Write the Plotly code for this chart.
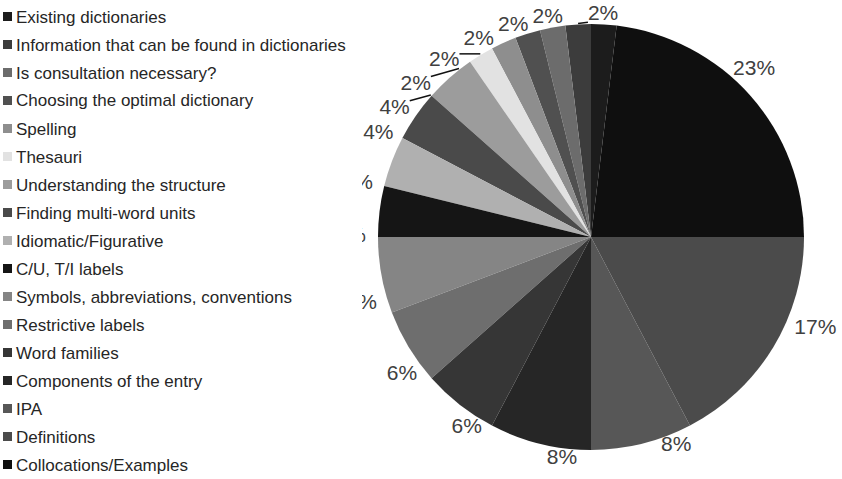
import math
import plotly.graph_objects as go

# Legend order (top to bottom); pie runs counterclockwise from 12 o'clock in this order
categories = [
    "Existing dictionaries",
    "Information that can be found in dictionaries",
    "Is consultation necessary?",
    "Choosing the optimal dictionary",
    "Spelling",
    "Thesauri",
    "Understanding the structure",
    "Finding multi-word units",
    "Idiomatic/Figurative",
    "C/U, T/I labels",
    "Symbols, abbreviations, conventions",
    "Restrictive labels",
    "Word families",
    "Components of the entry",
    "IPA",
    "Definitions",
    "Collocations/Examples",
]
counts = [1, 1, 1, 1, 1, 1, 2, 2, 2, 2, 3, 3, 3, 4, 4, 9, 12]

colors = [
    "#1c1c1c", "#3c3c3c", "#6c6c6c", "#505050", "#8e8e8e", "#e2e2e2",
    "#9c9c9c", "#4a4a4a", "#b0b0b0", "#151515", "#858585", "#6e6e6e",
    "#363636", "#262626", "#575757", "#4b4b4b", "#0f0f0f",
]

W, H = 842, 479
cx, cy, r = 591, 237, 213
FONT = "Liberation Sans, Arial, sans-serif"
LABEL_SIZE = 21

# ---- outside-end data labels (Excel style), derived from the slice angles ----
total = sum(counts)
mids, acc = [], 0
for v in counts:
    mids.append((acc + v / 2) / total * 360.0)  # degrees, counterclockwise from 12 o'clock
    acc += v
texts = [f"{round(100 * v / total)}%" for v in counts]
widths = [0.556 * LABEL_SIZE * (len(t) - 1) + 0.889 * LABEL_SIZE for t in texts]
HH = 10
RX, RY = 225, 213


def label_xy(a, w):
    s, c = math.sin(math.radians(a)), math.cos(math.radians(a))
    return cx - (RX + w / 2) * s, cy - (RY + HH) * c


def overlap(i, ai, j, aj, gap=4):
    x1, y1 = label_xy(ai, widths[i])
    x2, y2 = label_xy(aj, widths[j])
    return abs(x1 - x2) < (widths[i] + widths[j]) / 2 + gap and abs(y1 - y2) < 24


# greedy de-overlap: walk counterclockwise from the second label, then nudge the first one back
angles = list(mids)
n = len(angles)
for i in range(2, n):
    a = max(mids[i], angles[i - 1])
    while overlap(i - 1, angles[i - 1], i, a):
        a += 0.05
    angles[i] = a
a = mids[0]
while overlap(0, a, 1, angles[1], gap=25):
    a -= 0.05
angles[0] = a

lab_x, lab_y, lead_x, lead_y = [], [], [], []
for a, m, w in zip(angles, mids, widths):
    lx, ly = label_xy(a, w)
    lab_x.append(lx)
    lab_y.append(ly)
    if abs(a - m) > 4:
        ex = cx - (r + 1) * math.sin(math.radians(m))
        ey = cy - (r + 1) * math.cos(math.radians(m))
        nx = min(max(ex, lx - w / 2), lx + w / 2)
        ny = min(max(ey, ly - 8), ly + 8)
        lead_x += [ex, nx, None]
        lead_y += [ey, ny, None]

fig = go.Figure()
fig.add_trace(go.Scatter(x=lead_x, y=lead_y, mode="lines", line=dict(color="#111111", width=1.5),
                         hoverinfo="skip", showlegend=False, cliponaxis=False))
fig.add_trace(go.Scatter(x=lab_x, y=lab_y, text=texts, mode="text", textposition="middle center",
                         textfont=dict(family=FONT, size=LABEL_SIZE, color="#404040"),
                         hoverinfo="skip", showlegend=False, cliponaxis=False))
fig.add_trace(go.Pie(
    labels=categories,
    values=counts,
    sort=False,
    direction="counterclockwise",
    rotation=0,
    automargin=False,
    marker=dict(colors=colors, line=dict(width=0)),
    textinfo="none",
    showlegend=False,
    domain=dict(x=[(cx - r) / W, (cx + r) / W], y=[(H - cy - r) / H, (H - cy + r) / H]),
))

shapes = [dict(type="rect", xref="paper", yref="paper", x0=0, x1=362 / W, y0=0, y1=1,
               fillcolor="white", line=dict(width=0), layer="above")]
annotations = []
for i, (name, col) in enumerate(zip(categories, colors)):
    yc = 17 + 28 * i
    shapes.append(dict(type="rect", xref="paper", yref="paper",
                       x0=3 / W, x1=12 / W, y0=1 - (yc + 4) / H, y1=1 - (yc - 5) / H,
                       fillcolor=col, line=dict(width=0), layer="above"))
    annotations.append(dict(text=name, xref="paper", yref="paper", x=14 / W, y=1 - yc / H,
                            xanchor="left", yanchor="middle", showarrow=False,
                            font=dict(family=FONT, size=17, color="#262626")))

fig.update_layout(
    width=W, height=H,
    margin=dict(l=0, r=0, t=0, b=0, pad=0, autoexpand=False),
    paper_bgcolor="white", plot_bgcolor="white",
    xaxis=dict(range=[0, W], visible=False, fixedrange=True),
    yaxis=dict(range=[H, 0], visible=False, fixedrange=True),
    shapes=shapes, annotations=annotations,
)
fig.write_html("out.html", config={"displayModeBar": False},
               post_script="document.body.style.margin='0';")
